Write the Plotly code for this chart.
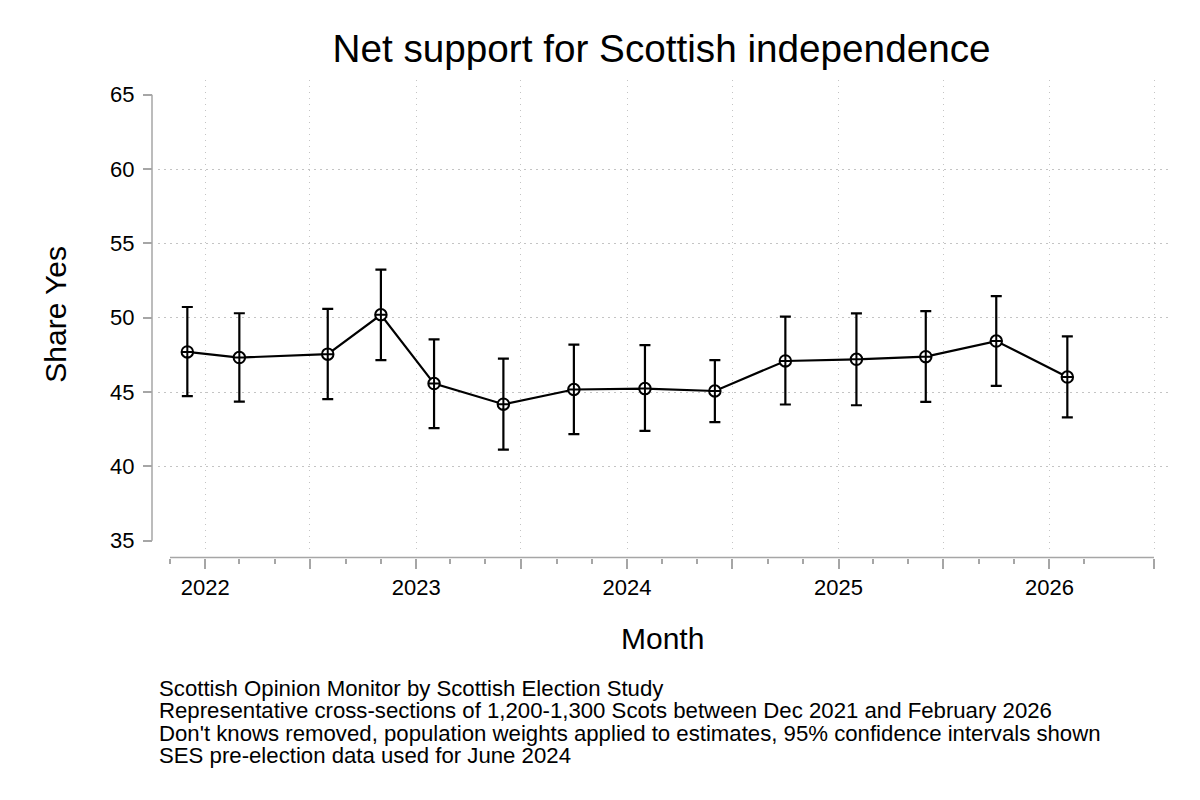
import plotly.graph_objects as go
import pandas as pd

# ---- data ----
months = ["2021-12-01", "2022-03-01", "2022-08-01", "2022-11-01", "2023-02-01",
          "2023-06-01", "2023-10-01", "2024-02-01", "2024-06-01", "2024-10-01",
          "2025-02-01", "2025-06-01", "2025-10-01", "2026-02-01"]
share_yes = [47.70, 47.32, 47.55, 50.20, 45.57, 44.18, 45.17, 45.23, 45.07, 47.09,
             47.20, 47.38, 48.43, 46.01]
ci_upper = [50.72, 50.30, 50.60, 53.24, 48.54, 47.25, 48.19, 48.16, 47.15, 50.07,
            50.29, 50.44, 51.45, 48.75]
ci_lower = [44.72, 44.36, 44.52, 47.15, 42.57, 41.12, 42.17, 42.39, 42.97, 44.16,
            44.11, 44.34, 45.41, 43.29]

y_ticks = [35, 40, 45, 50, 55, 60, 65]
y_grid = [40, 45, 50, 55, 60]
x_major = ["2022-01-01", "2022-07-01", "2023-01-01", "2023-07-01", "2024-01-01",
           "2024-07-01", "2025-01-01", "2025-07-01", "2026-01-01", "2026-07-01"]
x_major_labels = ["2022", "", "2023", "", "2024", "", "2025", "", "2026", ""]
x_minor = ["2021-11-01",
           "2022-03-01", "2022-05-01", "2022-09-01", "2022-11-01",
           "2023-03-01", "2023-05-01", "2023-09-01", "2023-11-01",
           "2024-03-01", "2024-05-01", "2024-09-01", "2024-11-01",
           "2025-03-01", "2025-05-01", "2025-09-01", "2025-11-01",
           "2026-03-01"]
x_axis_start, x_axis_end = "2021-11-01", "2026-07-01"

title = "Net support for Scottish independence"
notes = ["Scottish Opinion Monitor by Scottish Election Study",
         "Representative cross-sections of 1,200-1,300 Scots between Dec 2021 and February 2026",
         "Don't knows removed, population weights applied to estimates, 95% confidence intervals shown",
         "SES pre-election data used for June 2024"]

# ---- layout geometry (pixels in the 1200x800 window; page body has an 8px margin) ----
W, H = 1200, 800
OFF = 8


def px_x(p):
    return (p - OFF) / W


def px_y(p):
    return 1 - (p - OFF) / H


plot_l, plot_r, plot_t, plot_b = 158, 1171, 80, 553
xaxis_px0, xaxis_px1 = 170, 1154      # pixel of x_axis_start / x_axis_end
y35_px, y65_px = 542, 95
yaxis_x_px = 152
xaxis_y_px = 559

t0, t1 = pd.Timestamp(x_axis_start), pd.Timestamp(x_axis_end)
per_px = (t1 - t0) / (xaxis_px1 - xaxis_px0)
x_range = [(t0 - per_px * (xaxis_px0 - plot_l)).isoformat(),
           (t1 + per_px * (plot_r - xaxis_px1)).isoformat()]
upp = 30.0 / (y35_px - y65_px)
y_range = [35 - (plot_b - y35_px) * upp, 65 + (y65_px - plot_t) * upp]

FONT = "Liberation Sans, Arial, Helvetica, sans-serif"
AXIS_GRAY = "#a6a6a6"
GRID_GRAY = "#c4c4c4"

fig = go.Figure()
fig.add_trace(go.Scatter(
    x=months, y=share_yes, mode="lines+markers",
    line=dict(color="black", width=2.2),
    marker=dict(symbol="circle-cross", size=11.5, color="white",
                line=dict(color="black", width=2)),
    error_y=dict(type="data", symmetric=False,
                 array=[u - s for u, s in zip(ci_upper, share_yes)],
                 arrayminus=[s - l for s, l in zip(share_yes, ci_lower)],
                 color="black", thickness=2.2, width=5.5),
    showlegend=False, hoverinfo="x+y",
))

fig.update_layout(
    width=W, height=H,
    margin=dict(l=0, r=0, t=0, b=0),
    paper_bgcolor="white", plot_bgcolor="white",
    font=dict(family=FONT, color="black", size=22),
    title=dict(text=title, x=px_x(661.5), y=px_y(49), xref="paper", yref="paper",
               xanchor="center", yanchor="middle",
               font=dict(size=38.7, family=FONT, color="black")),
    xaxis=dict(
        type="date", domain=[px_x(plot_l), px_x(plot_r)], range=x_range,
        anchor="free", position=px_y(xaxis_y_px),
        showline=False, zeroline=False,
        tickmode="array", tickvals=x_major, ticktext=x_major_labels,
        ticks="outside", ticklen=10, tickwidth=1.5, tickcolor=AXIS_GRAY,
        tickfont=dict(size=22, color="black"),
        showgrid=True, gridcolor=GRID_GRAY, gridwidth=1.3, griddash="1.5px,4.5px",
        minor=dict(tickmode="array", tickvals=x_minor, ticks="outside", ticklen=5,
                   tickwidth=1.5, tickcolor=AXIS_GRAY, showgrid=False),
        fixedrange=True,
    ),
    yaxis=dict(
        domain=[px_y(plot_b), px_y(plot_t)], range=y_range,
        anchor="free", position=px_x(yaxis_x_px),
        showline=False, zeroline=False,
        tickmode="array", tickvals=y_ticks,
        ticks="outside", ticklen=9, tickwidth=1.5, tickcolor=AXIS_GRAY,
        tickfont=dict(size=22, color="black"), ticklabelstandoff=4,
        showgrid=False,
        minor=dict(tickmode="array", tickvals=y_grid, ticks="", ticklen=0,
                   showgrid=True, gridcolor=GRID_GRAY, gridwidth=1.3,
                   griddash="1.5px,4.5px"),
        fixedrange=True,
    ),
    shapes=[
        dict(type="line", xref="x", yref="paper", x0=x_axis_start, x1=x_axis_end,
             y0=px_y(xaxis_y_px), y1=px_y(xaxis_y_px),
             line=dict(color=AXIS_GRAY, width=1.5), layer="above"),
        dict(type="line", xref="paper", yref="y", x0=px_x(yaxis_x_px), x1=px_x(yaxis_x_px),
             y0=y_ticks[0], y1=y_ticks[-1],
             line=dict(color=AXIS_GRAY, width=1.5), layer="above"),
    ],
)

annotations = [
    dict(text="Share Yes", x=px_x(56), y=px_y(315.5), xref="paper", yref="paper",
         textangle=-90, showarrow=False, xanchor="center", yanchor="middle",
         font=dict(size=30, family=FONT, color="black")),
    dict(text="Month", x=px_x(662), y=px_y(640), xref="paper", yref="paper",
         showarrow=False, xanchor="center", yanchor="middle",
         font=dict(size=30, family=FONT, color="black")),
]
note_y_px = [690, 712.5, 735, 757.5]
for txt, ypx in zip(notes, note_y_px):
    annotations.append(dict(text=txt, x=px_x(157), y=px_y(ypx), xref="paper", yref="paper",
                            showarrow=False, xanchor="left", yanchor="middle",
                            font=dict(size=22.2, family=FONT, color="black")))
fig.update_layout(annotations=annotations)

fig.write_html("out.html")
